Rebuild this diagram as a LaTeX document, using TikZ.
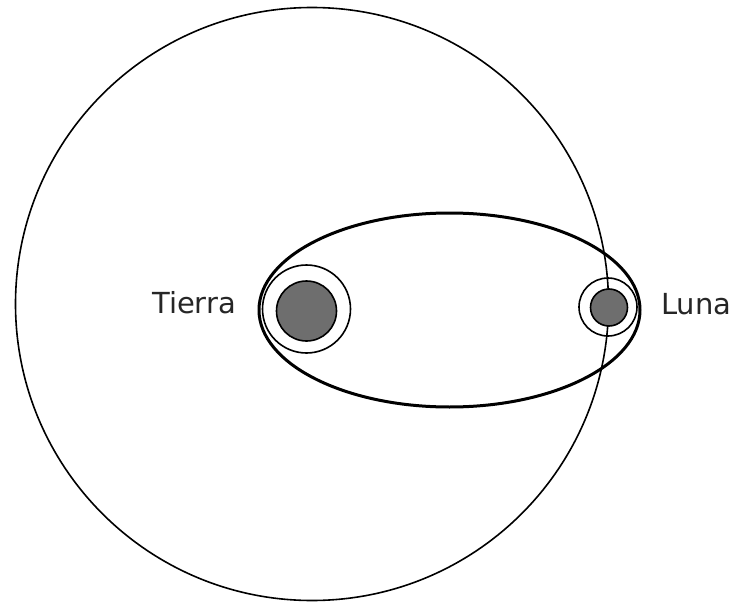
\documentclass[tikz,border=0pt]{standalone}
\usepackage{fontspec}
\setmainfont{DejaVu Sans}
\definecolor{body}{HTML}{6E6E6E}
\begin{document}
\begin{tikzpicture}[x=1pt,y=-1pt,
  orbit/.style={draw=black,line width=1.6pt},
  path/.style={draw=black,line width=3pt},
  ring/.style={draw=black,line width=1.6pt},
  planet/.style={draw=black,fill=body,line width=1.6pt},
  lbl/.style={font=\fontsize{29}{34}\selectfont,text=black!85,inner sep=0pt}]
\useasboundingbox (0,0) rectangle (734,602);
\draw[orbit] (312,304) circle (296.5);
\draw[path] (449.5,310) ellipse (190.5 and 97);
\draw[ring] (306.5,309) circle (44);
\draw[planet] (306.5,311) circle (30);
\draw[ring] (608,307) circle (29);
\draw[planet] (609,307.5) circle (18.5);
\node[lbl,anchor=base west] (tierra) at (152,313) {Tierra};
\node[lbl,anchor=base west] (luna) at (661,314) {Luna};
\end{tikzpicture}
\end{document}
